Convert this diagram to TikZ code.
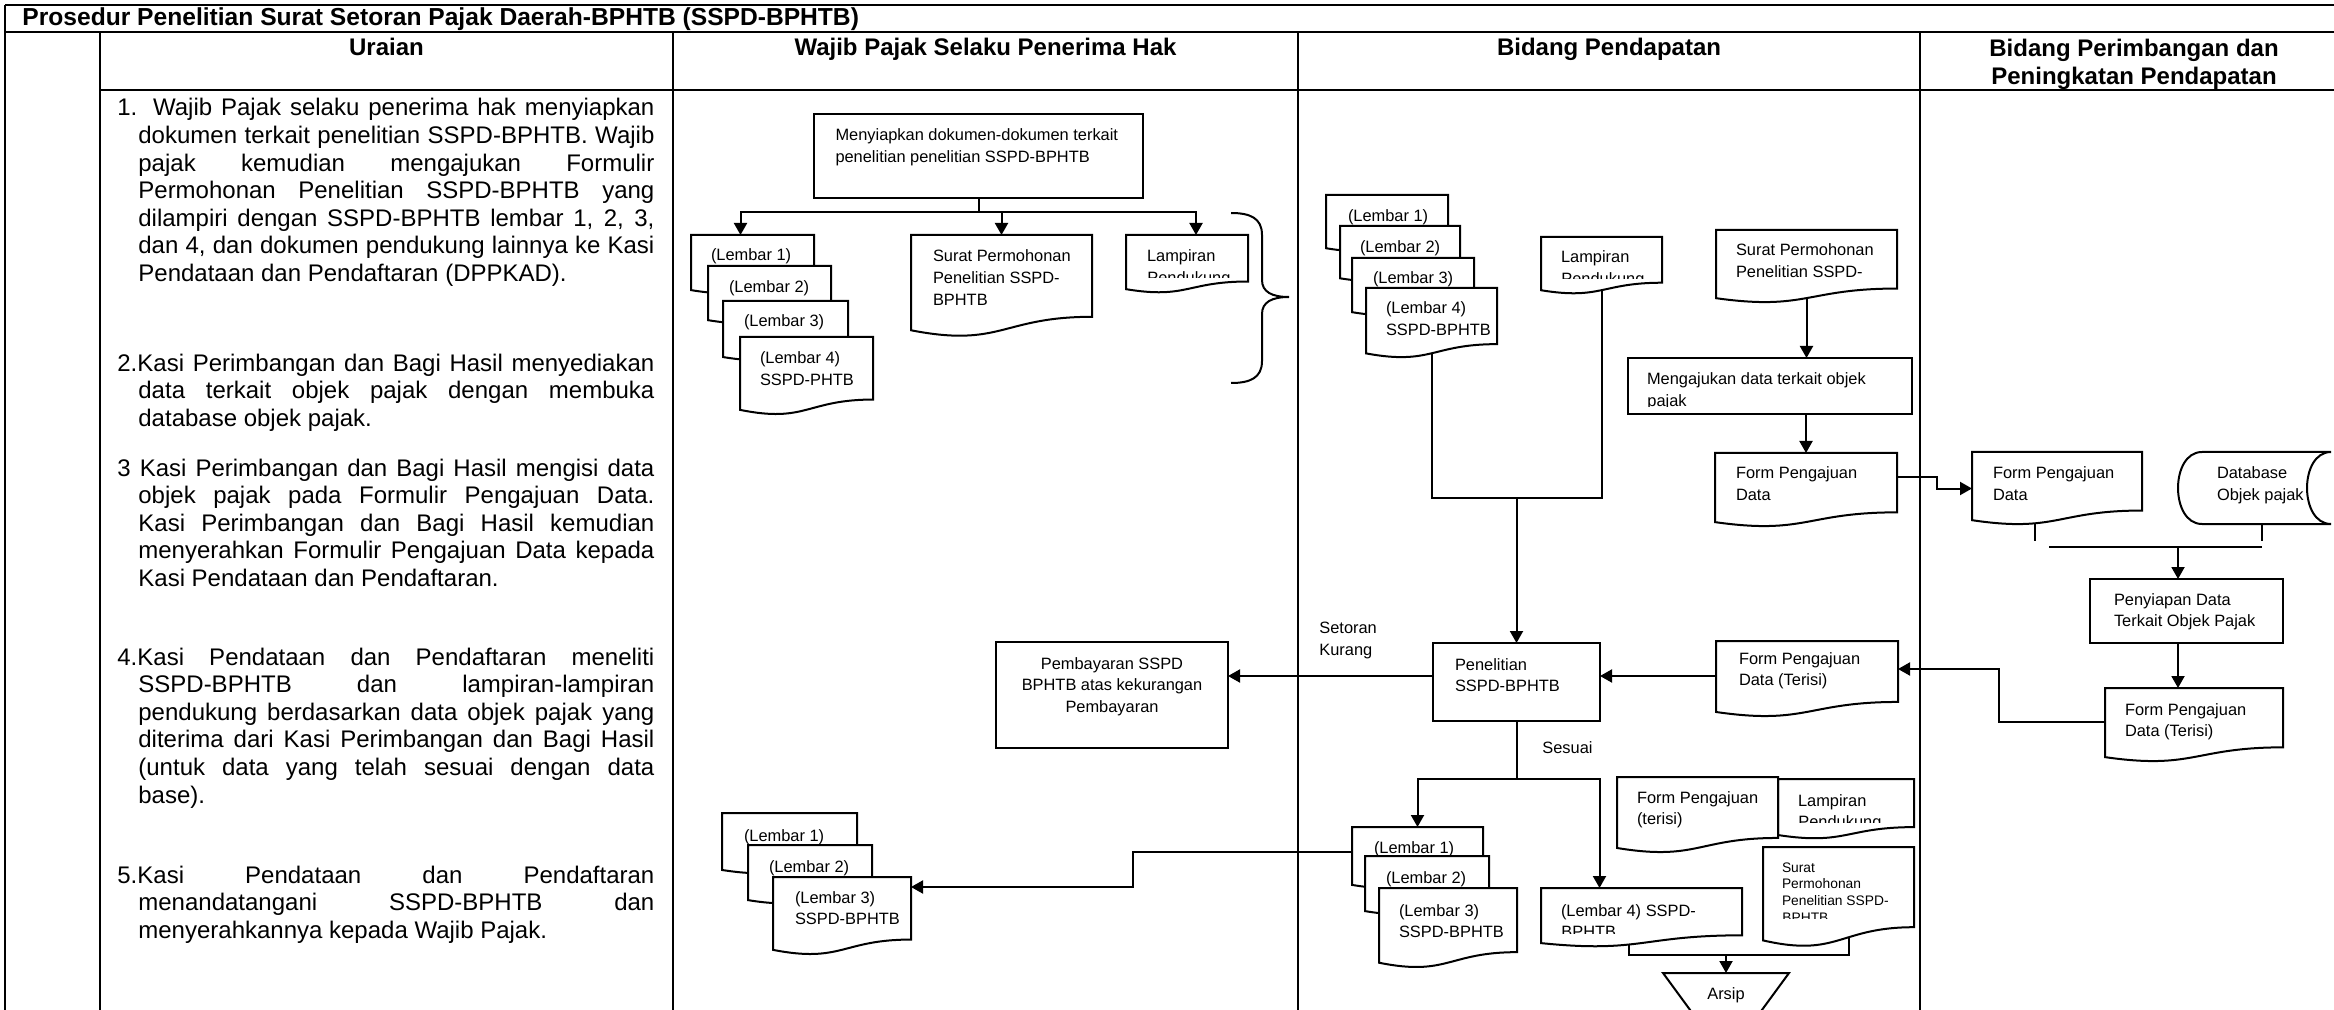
\documentclass[tikz,border=0pt]{standalone}
\usepackage{fontspec}
\setmainfont{Liberation Sans}
\usetikzlibrary{arrows.meta,calc}
\pgfdeclarelayer{bg}
\pgfsetlayers{bg,main}

% one unit = one pixel of the sheet
\newdimen\pxu \pxu=0.5pt
\newdimen\dsH

% flowchart "document" symbol: straight top and sides, wavy bottom
\makeatletter
\pgfdeclareshape{docsheet}{%
  \inheritsavedanchors[from=rectangle]%
  \inheritanchorborder[from=rectangle]%
  \inheritanchor[from=rectangle]{center}%
  \inheritanchor[from=rectangle]{north}%
  \inheritanchor[from=rectangle]{south}%
  \inheritanchor[from=rectangle]{east}%
  \inheritanchor[from=rectangle]{west}%
  \inheritanchor[from=rectangle]{north east}%
  \inheritanchor[from=rectangle]{north west}%
  \inheritanchor[from=rectangle]{south east}%
  \inheritanchor[from=rectangle]{south west}%
  \inheritanchor[from=rectangle]{text}%
  \inheritanchor[from=rectangle]{base}%
  \inheritanchor[from=rectangle]{mid}%
  \backgroundpath{%
    \southwest \edef\ds@xa{\the\pgf@x}\edef\ds@ya{\the\pgf@y}%
    \northeast \edef\ds@xb{\the\pgf@x}\edef\ds@yb{\the\pgf@y}%
    \dsH=\dimexpr\ds@yb-\ds@ya\relax
    \edef\ds@xm{\the\dimexpr(\ds@xa+\ds@xb)/2\relax}%
    \pgfpathmoveto{\pgfqpoint{\ds@xa}{\ds@yb}}%
    \pgfpathlineto{\pgfqpoint{\ds@xb}{\ds@yb}}%
    \pgfpathlineto{\pgfqpoint{\ds@xb}{\dimexpr\ds@yb-0.802\dsH\relax}}%
    \pgfpathcurveto
      {\pgfqpoint{\ds@xm}{\dimexpr\ds@yb-0.802\dsH\relax}}%
      {\pgfqpoint{\ds@xm}{\dimexpr\ds@yb-1.1075\dsH\relax}}%
      {\pgfqpoint{\ds@xa}{\dimexpr\ds@yb-0.934\dsH\relax}}%
    \pgfpathclose
  }%
}
\makeatother

\newcommand\ffont{\fontsize{8.2pt}{10.8pt}\selectfont}
\newcommand\sfont{\fontsize{6.9pt}{8.35pt}\selectfont}
\newcommand\bodyfont{\fontsize{12pt}{13.8pt}\selectfont}
\newcommand\headfont{\fontsize{12pt}{14pt}\selectfont\bfseries}

% box contents: width, height, left pad, first baseline, text (all in px)
\newcommand\sheetbody[5]{\parbox[c][#2\pxu][t]{#1\pxu}{\raggedright\leftskip=#3\pxu\relax\rule{0pt}{#4\pxu}#5}}
\newcommand\ctrbody[4]{\parbox[c][#2\pxu][t]{#1\pxu}{\centering\rule{0pt}{#3\pxu}#4}}
% justified lines of the description column
\newcommand\ufirst[1]{\makebox[268.5pt][s]{#1}}
\newcommand\umid[1]{\hspace*{10.5pt}\makebox[258pt][s]{#1}}
\newcommand\ulast[1]{\hspace*{10.5pt}#1}

\tikzset{
  sheet/.style={shape=docsheet, draw, fill=white, line width=1pt, inner sep=0pt, outer sep=0pt, anchor=north west, font=\ffont},
  procbox/.style={shape=rectangle, draw, fill=white, line width=1pt, inner sep=0pt, outer sep=0pt, anchor=north west, font=\ffont},
  flow/.style={line width=1pt, -{Triangle[length=6pt,width=6.5pt]}},
  joinline/.style={line width=1pt},
  gridline/.style={line width=1pt},
  lbl/.style={inner sep=0pt, font=\ffont},
  bodytext/.style={inner sep=0pt, anchor=north west, align=left, font=\bodyfont},
  headtext/.style={inner sep=0pt, font=\headfont},
}

\begin{document}
\begin{tikzpicture}[x=0.5pt,y=-0.5pt]
\useasboundingbox (0,0) rectangle (2334,1010);

% ---------- table ----------
\draw[gridline] (5,5) -- (2334,5);
\draw[gridline] (5,5) -- (5,1010);
\draw[gridline] (5,32) -- (2334,32);
\draw[gridline] (100,32) -- (100,1010);
\draw[gridline] (100,90) -- (2334,90);
\draw[gridline] (673,32) -- (673,1010);
\draw[gridline] (1298,32) -- (1298,1010);
\draw[gridline] (1920,32) -- (1920,1010);

\node[inner sep=0pt, anchor=base west, font=\fontsize{12.3pt}{14pt}\selectfont\bfseries] (title) at (22,26)
  {Prosedur Penelitian Surat Setoran Pajak Daerah-BPHTB (SSPD-BPHTB)};

\node[headtext, anchor=base] (hU) at (386.5,56) {Uraian};
\node[headtext, anchor=base] (hW) at (985.5,56) {Wajib Pajak Selaku Penerima Hak};
\node[headtext, anchor=base] (hB) at (1609,56) {Bidang Pendapatan};
\node[headtext, anchor=north, align=center] (hP) at (2134,36)
  {\rule{0pt}{20\pxu}Bidang Perimbangan dan\\Peningkatan Pendapatan};

% ---------- description column ----------
\node[bodytext] (u1) at (117,95) {\rule{0pt}{20.6\pxu}\ufirst{1. Wajib Pajak selaku penerima hak menyiapkan}\\
  \umid{dokumen terkait penelitian SSPD-BPHTB. Wajib}\\
  \umid{pajak kemudian mengajukan Formulir}\\
  \umid{Permohonan Penelitian SSPD-BPHTB yang}\\
  \umid{dilampiri dengan SSPD-BPHTB lembar 1, 2, 3,}\\
  \umid{dan 4, dan dokumen pendukung lainnya ke Kasi}\\
  \ulast{Pendataan dan Pendaftaran (DPPKAD).}};
\node[bodytext] (u2) at (117,350) {\rule{0pt}{20.6\pxu}\ufirst{2.Kasi Perimbangan dan Bagi Hasil menyediakan}\\
  \umid{data terkait objek pajak dengan membuka}\\
  \ulast{database objek pajak.}};
\node[bodytext] (u3) at (117,455) {\rule{0pt}{20.6\pxu}\ufirst{3 Kasi Perimbangan dan Bagi Hasil mengisi data}\\
  \umid{objek pajak pada Formulir Pengajuan Data.}\\
  \umid{Kasi Perimbangan dan Bagi Hasil kemudian}\\
  \umid{menyerahkan Formulir Pengajuan Data kepada}\\
  \ulast{Kasi Pendataan dan Pendaftaran.}};
\node[bodytext] (u4) at (117,644) {\rule{0pt}{20.6\pxu}\ufirst{4.Kasi Pendataan dan Pendaftaran meneliti}\\
  \umid{SSPD-BPHTB dan lampiran-lampiran}\\
  \umid{pendukung berdasarkan data objek pajak yang}\\
  \umid{diterima dari Kasi Perimbangan dan Bagi Hasil}\\
  \umid{(untuk data yang telah sesuai dengan data}\\
  \ulast{base).}};
\node[bodytext] (u5) at (117,862) {\rule{0pt}{20.6\pxu}\ufirst{5.Kasi Pendataan dan Pendaftaran}\\
  \umid{menandatangani SSPD-BPHTB dan}\\
  \ulast{menyerahkannya kepada Wajib Pajak.}};

% ---------- Wajib Pajak lane ----------
\node[procbox] (m1) at (814,114) {\sheetbody{329}{84}{21.5}{27}{Menyiapkan dokumen-dokumen terkait\\penelitian penelitian SSPD-BPHTB}};
\node[sheet] (wL1) at (691,235) {\sheetbody{123}{59}{20}{26}{(Lembar 1)}};
\node[sheet] (wL2) at (708,266) {\sheetbody{123}{58}{21}{27}{(Lembar 2)}};
\node[sheet] (wL3) at (723,301) {\sheetbody{125}{60}{21}{26}{(Lembar 3)}};
\node[sheet] (wL4) at (740,337) {\sheetbody{133}{78}{20}{27}{(Lembar 4)\\SSPD-PHTB}};
\node[sheet] (wSP) at (911,235) {\sheetbody{181}{102}{22}{27}{Surat Permohonan\\Penelitian SSPD-\\BPHTB}};
\node[sheet] (wLP) at (1126,235) {\sheetbody{122}{58}{21}{27}{Lampiran}};
\begin{scope}
  \clip (1126,262) rectangle (1248,278);
  \node[lbl, anchor=base west] (wLPx) at (1147,283.6) {Pendukung};
\end{scope}
% brace grouping the prepared documents
\draw[joinline] (1231,213) .. controls (1250,213) and (1262,218) .. (1262,235) -- (1262,280)
  .. controls (1262,292) and (1272,297) .. (1289,297)
  .. controls (1272,297) and (1262,302) .. (1262,314) -- (1262,361)
  .. controls (1262,378) and (1250,383) .. (1231,383);

\node[procbox] (pemb) at (996,642) {\ctrbody{232}{106}{27}{Pembayaran SSPD\\BPHTB atas kekurangan\\Pembayaran}};

\node[sheet] (wbL1) at (722,813) {\sheetbody{135}{61}{22}{28}{(Lembar 1)}};
\node[sheet] (wbL2) at (748,845) {\sheetbody{124}{59}{21}{27}{(Lembar 2)}};
\node[sheet] (wbL3) at (773,877) {\sheetbody{138}{78}{22}{26}{(Lembar 3)\\SSPD-BPHTB}};

% ---------- Bidang Pendapatan lane ----------
\node[sheet] (bL1) at (1326,195) {\sheetbody{122}{57}{22}{27}{(Lembar 1)}};
\node[sheet] (bL2) at (1340,226) {\sheetbody{120}{56}{20}{27}{(Lembar 2)}};
\node[sheet] (bL3) at (1352,258) {\sheetbody{122}{58}{21}{26}{(Lembar 3)}};
\node[sheet] (bL4) at (1366,288) {\sheetbody{131}{70}{20}{26}{(Lembar 4)\\SSPD-BPHTB}};
\node[sheet] (bLP) at (1541,237) {\sheetbody{121}{57}{20}{26}{Lampiran}};
\begin{scope}
  \clip (1541,265) rectangle (1662,279);
  \node[lbl, anchor=base west] (bLPx) at (1561,284.6) {Pendukung};
\end{scope}
\node[sheet] (bSP) at (1716,230) {\sheetbody{181}{73}{20}{26}{Surat Permohonan\\Penelitian SSPD-}};
\node[procbox] (meng) at (1628,358) {\sheetbody{284}{56}{19}{27}{Mengajukan data terkait objek}};
\begin{scope}
  \clip (1628,390) rectangle (1912,407);
  \node[lbl, anchor=base west] (mengx) at (1647,406.6) {pajak};
\end{scope}
\node[sheet] (fPD) at (1715,453) {\sheetbody{182}{74}{21}{26}{Form Pengajuan\\Data}};
\node[procbox] (penel) at (1433,643) {\sheetbody{167}{78}{22}{27}{Penelitian\\SSPD-BPHTB}};
\node[sheet] (fPDT) at (1716,641) {\sheetbody{182}{76}{23}{23}{Form Pengajuan\\Data (Terisi)}};

\node[lbl, anchor=north west, align=left] (setoran) at (1319,610) {\rule{0pt}{23\pxu}Setoran\\Kurang};
\node[lbl, anchor=base west] (sesuai) at (1542,753) {Sesuai};

\node[sheet] (cL1) at (1352,827) {\sheetbody{131}{62}{22}{26}{(Lembar 1)}};
\node[sheet] (cL2) at (1365,856) {\sheetbody{124}{59}{21}{27}{(Lembar 2)}};
\node[sheet] (cL3) at (1379,888) {\sheetbody{138}{80}{20}{28}{(Lembar 3)\\SSPD-BPHTB}};
\node[sheet] (cL4) at (1541,888) {\sheetbody{201}{59}{20}{28}{(Lembar 4) SSPD-}};
\begin{scope}
  \clip (1541,916) rectangle (1742,933);
  \node[lbl, anchor=base west] (cL4x) at (1561,937.6) {BPHTB};
\end{scope}
\node[sheet] (cLP) at (1778,779) {\sheetbody{136}{60}{20}{27}{Lampiran}};
\begin{scope}
  \clip (1778,808) rectangle (1914,822);
  \node[lbl, anchor=base west] (cLPx) at (1798,827.6) {Pendukung};
\end{scope}
\node[sheet] (cFP) at (1617,777) {\sheetbody{161}{76}{20}{26}{Form Pengajuan\\(terisi)}};
\node[sheet, font=\sfont] (cSP) at (1763,847) {\sheetbody{151}{100}{19}{25}{Surat\\Permohonan\\Penelitian SSPD-}};
\begin{scope}
  \clip (1763,905) rectangle (1914,918);
  \node[lbl, font=\sfont, anchor=base west] (cSPx) at (1782,922) {BPHTB};
\end{scope}
\node[inner sep=0pt, outer sep=0pt, minimum width=63pt, minimum height=22pt, anchor=north, font=\ffont] (arsip) at (1726,973) {Arsip};
\draw[joinline] (arsip.north west) -- (arsip.north east) -- ($(arsip.north)+(0,86)$) -- cycle;

% ---------- Bidang Perimbangan lane ----------
\node[sheet] (pFP) at (1972,452) {\sheetbody{170}{73}{21}{27}{Form Pengajuan\\Data}};
\node[inner sep=0pt, outer sep=0pt, anchor=north west, font=\ffont] (db) at (2178,452) {\sheetbody{156}{72}{39}{27}{Database\\Objek pajak}};
\draw[joinline] (2202,452) -- (2331,452) (2331,524) -- (2202,524)
  (2202,452) .. controls (2186,452) and (2178,470) .. (2178,488) .. controls (2178,506) and (2186,524) .. (2202,524)
  (2331,452) .. controls (2315,452) and (2307,470) .. (2307,488) .. controls (2307,506) and (2315,524) .. (2331,524);
\node[procbox] (penyiapan) at (2090,579) {\sheetbody{193}{64}{24}{26}{Penyiapan Data\\Terkait Objek Pajak}};
\node[sheet] (pFPT) at (2105,688) {\sheetbody{178}{74}{20}{27}{Form Pengajuan\\Data (Terisi)}};

% ---------- connectors ----------
\coordinate (wsplit) at (978.5,212);
\coordinate (bjoin) at (1516.5,498);
\coordinate (sj) at (1516.5,779);
\coordinate (ajoin) at (1726,955);
\coordinate (barL) at (2049,547);
\coordinate (barR) at (2262,547);
\coordinate (barM) at (2178,547);
\path ([yshift=1.5pt]fPDT.west) coordinate (fw);
\path ([yshift=3pt]penel.west) coordinate (pw);
\path ([yshift=3pt]cL1.west) coordinate (cw);

\begin{pgfonlayer}{bg}
  \draw[joinline] (m1.south) -- (wsplit);
  \draw[flow] (wsplit) -| ([xshift=-6pt]wL1.north);
  \draw[flow] (wsplit) -| (wSP.north);
  \draw[flow] (wsplit) -| ([xshift=4.5pt]wLP.north);

  \draw[joinline] (bL4.center) |- (bjoin) -| (bLP.center);
  \draw[flow] (bjoin) -- (penel.north);
  \draw[flow] (bSP.center) -- (bSP.center |- meng.north);
  \draw[flow] (fPD.north |- meng.south) -- (fPD.north);
  \draw[flow] ([yshift=6.5pt]fPD.east) -- ++(40,0) |- (pFP.west);

  \draw[joinline] ([xshift=-11pt]pFP.center) -- ++(0,52.5);
  \draw[joinline] ([xshift=3pt]db.south) -- ++(0,17);
  \draw[joinline] (barL) -- (barR);
  \draw[flow] (barM) -- (barM |- penyiapan.north);
  \draw[flow] (barM |- penyiapan.south) -- (barM |- pFPT.north);
  \draw[flow] ([yshift=1.5pt]pFPT.west) -- ++(-106,0) |- ([yshift=5pt]fPDT.east);

  \draw[flow] (fw) -- (fw -| penel.east);
  \draw[flow] (pw) -- (pw -| pemb.east);

  \draw[joinline] (penel.south) -- (sj);
  \draw[flow] (sj) -| (cL1.north);
  \draw[flow] (sj) -| ([xshift=-21pt]cL4.north);
  \draw[flow] (cw) -- ++(-219,0) |- ([yshift=14.5pt]wbL3.east);

  \draw[joinline] ([xshift=-6.5pt]cL4.center) |- (ajoin) -| ([xshift=5pt]cSP.center);
  \draw[flow] (ajoin) -- (arsip.north);
\end{pgfonlayer}
\end{tikzpicture}
\end{document}
